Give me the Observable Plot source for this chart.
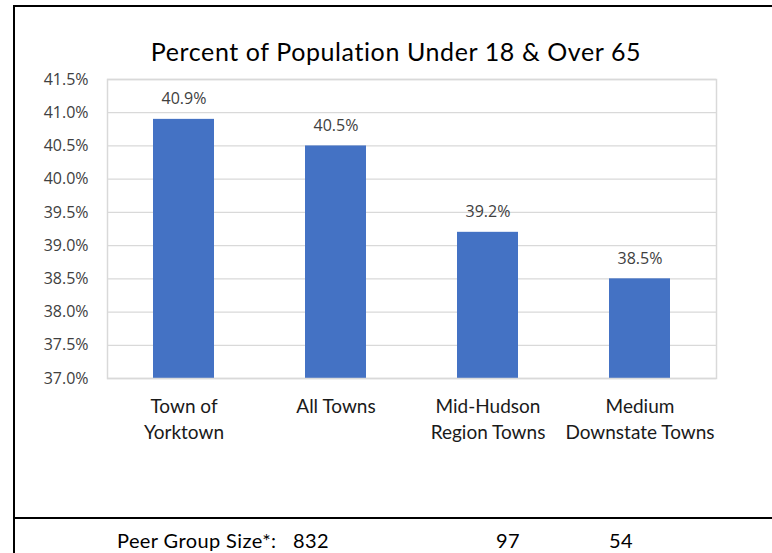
<!DOCTYPE html>
<html>
<head>
<meta charset="utf-8">
<script src="https://cdn.jsdelivr.net/npm/d3@7"></script>
<script src="https://cdn.jsdelivr.net/npm/@observablehq/plot@0.6"></script>
<style>
  html, body { margin: 0; padding: 0; background: #fff; }
  #wrap { position: relative; width: 772px; height: 553px; overflow: hidden; background: #fff; }
  #chart { position: absolute; left: 0; top: 0; }
  #title { position: absolute; left: 0; width: 792px; top: 38px; line-height: 26px; text-align: center;
           font-family: Lato, sans-serif; font-size: 25px; letter-spacing: 0.6px; color: #000; white-space: nowrap; }
  .border-top { position: absolute; left: 13px; top: 5px; width: 800px; height: 2px; background: #000; }
  .border-left { position: absolute; left: 13px; top: 5px; width: 2px; height: 560px; background: #000; }
  .border-bottom { position: absolute; left: 13px; top: 517px; width: 800px; height: 2px; background: #000; }
  #footer { position: absolute; left: 0; top: 527px; height: 26px; width: 772px;
            font-family: Lato, sans-serif; font-size: 20px; letter-spacing: 0.4px; color: #000; line-height: 26px; }
  #footer span { position: absolute; top: 0; white-space: nowrap; }
</style>
</head>
<body>
<div id="wrap">
  <div class="border-top"></div>
  <div class="border-left"></div>
  <div class="border-bottom"></div>
  <div id="title"></div>
  <div id="chart"></div>
  <div id="footer"></div>
</div>
<script>
const titleText = "Percent of Population Under 18 & Over 65";
const categories = ["Town of Yorktown", "All Towns", "Mid-Hudson Region Towns", "Medium Downstate Towns"];
const categoryLabels = ["Town of\nYorktown", "All Towns", "Mid-Hudson\nRegion Towns", "Medium\nDownstate Towns"];
const values = [40.9, 40.5, 39.2, 38.5];
const yTicks = [37.0, 37.5, 38.0, 38.5, 39.0, 39.5, 40.0, 40.5, 41.0, 41.5];
const peerLabel = "Peer Group Size*:";
const peerSizes = ["832", "97", "54"];

const yMin = yTicks[0], yMax = yTicks[yTicks.length - 1];
const data = categories.map((c, i) => ({name: c, value: values[i]}));
const labelOf = new Map(categories.map((c, i) => [c, categoryLabels[i]]));

document.getElementById("title").textContent = titleText;

const chart = Plot.plot({
  width: 772,
  height: 553,
  marginLeft: 107,
  marginRight: 56,
  marginTop: 79,
  marginBottom: 175,
  style: {background: "transparent", overflow: "visible"},
  x: {domain: categories, paddingInner: 0.6, paddingOuter: 0.3, label: null},
  y: {domain: [yMin, yMax], label: null},
  marks: [
    Plot.gridY(yTicks, {stroke: "#d9d9d9", strokeOpacity: 1, strokeWidth: 1.3}),
    Plot.barY(data, {x: "name", y1: yMin, y2: "value", fill: "#4472C4"}),
    Plot.frame({stroke: "#d9d9d9", strokeWidth: 1.5}),
    Plot.text(data, {x: "name", y: "value", text: d => d.value.toFixed(1) + "%", dy: -20,
      fill: "#404040", fontSize: 16, fontFamily: "Open Sans, sans-serif"}),
    Plot.axisY(yTicks, {tickSize: 0, tickPadding: 19, tickFormat: d => d.toFixed(1) + "%",
      fill: "#404040", fontSize: 16, fontFamily: "Open Sans, sans-serif", label: null}),
    Plot.axisX({tickSize: 0, tickPadding: 16, tickFormat: d => labelOf.get(d),
      fill: "#1a1a1a", fontSize: 19, lineHeight: 1.37, fontFamily: "Lato, sans-serif", label: null})
  ]
});
document.getElementById("chart").appendChild(chart);

const footer = document.getElementById("footer");
const footerItems = [peerLabel, ...peerSizes];
const footerLeft = [117, 293, 496, 609];
footerItems.forEach((t, i) => {
  const s = document.createElement("span");
  s.textContent = t;
  s.style.left = footerLeft[i] + "px";
  footer.appendChild(s);
});
</script>
</body>
</html>
